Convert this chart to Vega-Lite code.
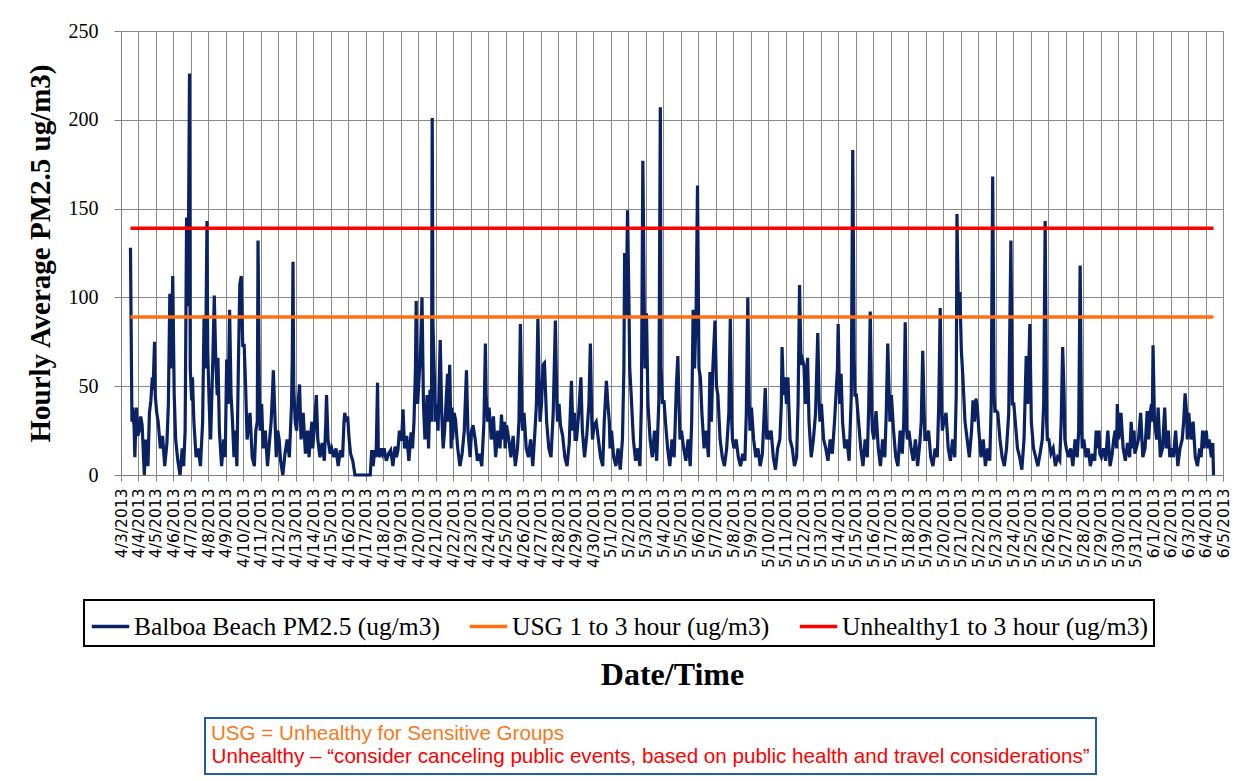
{
"$schema":"https://vega.github.io/schema/vega-lite/v6.json",
"autosize":{"type":"none"},
"padding":{"left":121,"top":31,"right":26,"bottom":306},
"width":1102,"height":444,
"background":"#FFFFFF",
"config":{"view":{"stroke":null},"legend":{"strokeWidth":2}},
"datasets":{
"pm":[
{"t":"2013-04-03T13:00","v":128},{"t":"2013-04-03T15:00","v":30},{"t":"2013-04-03T16:00","v":38},{"t":"2013-04-03T18:00","v":27},{"t":"2013-04-03T19:00","v":10},{"t":"2013-04-03T21:00","v":38},{"t":"2013-04-03T23:00","v":22},
{"t":"2013-04-04T01:00","v":25},{"t":"2013-04-04T03:00","v":33},{"t":"2013-04-04T05:00","v":28},{"t":"2013-04-04T08:00","v":0},{"t":"2013-04-04T10:00","v":20},{"t":"2013-04-04T13:00","v":5},{"t":"2013-04-04T15:00","v":35},{"t":"2013-04-04T17:00","v":42},{"t":"2013-04-04T19:00","v":55},{"t":"2013-04-04T20:00","v":48},{"t":"2013-04-04T22:00","v":75},{"t":"2013-04-04T23:00","v":45},
{"t":"2013-04-05T01:00","v":35},{"t":"2013-04-05T03:00","v":30},{"t":"2013-04-05T06:00","v":15},{"t":"2013-04-05T09:00","v":22},{"t":"2013-04-05T12:00","v":5},{"t":"2013-04-05T15:00","v":18},{"t":"2013-04-05T17:00","v":40},{"t":"2013-04-05T19:00","v":102},{"t":"2013-04-05T20:00","v":60},{"t":"2013-04-05T22:00","v":90},{"t":"2013-04-05T23:00","v":112},
{"t":"2013-04-06T01:00","v":45},{"t":"2013-04-06T03:00","v":20},{"t":"2013-04-06T06:00","v":8},{"t":"2013-04-06T09:00","v":0},{"t":"2013-04-06T12:00","v":15},{"t":"2013-04-06T14:00","v":5},{"t":"2013-04-06T16:00","v":25},{"t":"2013-04-06T18:00","v":145},{"t":"2013-04-06T20:00","v":95},{"t":"2013-04-06T22:00","v":226},{"t":"2013-04-06T23:00","v":60},
{"t":"2013-04-07T01:00","v":42},{"t":"2013-04-07T02:00","v":55},{"t":"2013-04-07T04:00","v":30},{"t":"2013-04-07T07:00","v":10},{"t":"2013-04-07T10:00","v":15},{"t":"2013-04-07T13:00","v":5},{"t":"2013-04-07T16:00","v":30},{"t":"2013-04-07T18:00","v":90},{"t":"2013-04-07T20:00","v":60},{"t":"2013-04-07T22:00","v":143},{"t":"2013-04-07T23:00","v":70},
{"t":"2013-04-08T01:00","v":40},{"t":"2013-04-08T03:00","v":20},{"t":"2013-04-08T06:00","v":65},{"t":"2013-04-08T08:00","v":101},{"t":"2013-04-08T10:00","v":65},{"t":"2013-04-08T12:00","v":45},{"t":"2013-04-08T13:00","v":66},{"t":"2013-04-08T15:00","v":25},{"t":"2013-04-08T18:00","v":5},{"t":"2013-04-08T21:00","v":20},{"t":"2013-04-08T23:00","v":10},
{"t":"2013-04-09T01:00","v":65},{"t":"2013-04-09T03:00","v":40},{"t":"2013-04-09T05:00","v":93},{"t":"2013-04-09T07:00","v":45},{"t":"2013-04-09T09:00","v":30},{"t":"2013-04-09T11:00","v":10},{"t":"2013-04-09T13:00","v":25},{"t":"2013-04-09T15:00","v":5},{"t":"2013-04-09T17:00","v":60},{"t":"2013-04-09T19:00","v":107},{"t":"2013-04-09T21:00","v":112},{"t":"2013-04-09T23:00","v":73},
{"t":"2013-04-10T01:00","v":73},{"t":"2013-04-10T03:00","v":50},{"t":"2013-04-10T05:00","v":20},{"t":"2013-04-10T09:00","v":35},{"t":"2013-04-10T12:00","v":10},{"t":"2013-04-10T15:00","v":5},{"t":"2013-04-10T17:00","v":25},{"t":"2013-04-10T19:00","v":30},{"t":"2013-04-10T20:00","v":132},{"t":"2013-04-10T22:00","v":40},{"t":"2013-04-10T23:00","v":25},
{"t":"2013-04-11T01:00","v":40},{"t":"2013-04-11T03:00","v":15},{"t":"2013-04-11T06:00","v":25},{"t":"2013-04-11T09:00","v":5},{"t":"2013-04-11T12:00","v":20},{"t":"2013-04-11T14:00","v":30},{"t":"2013-04-11T16:00","v":48},{"t":"2013-04-11T17:00","v":59},{"t":"2013-04-11T19:00","v":35},{"t":"2013-04-11T21:00","v":10},{"t":"2013-04-11T23:00","v":25},
{"t":"2013-04-12T01:00","v":20},{"t":"2013-04-12T03:00","v":8},{"t":"2013-04-12T06:00","v":0},{"t":"2013-04-12T09:00","v":12},{"t":"2013-04-12T12:00","v":20},{"t":"2013-04-12T15:00","v":10},{"t":"2013-04-12T18:00","v":40},{"t":"2013-04-12T19:00","v":65},{"t":"2013-04-12T20:00","v":120},{"t":"2013-04-12T21:00","v":50},{"t":"2013-04-12T23:00","v":30},
{"t":"2013-04-13T01:00","v":25},{"t":"2013-04-13T03:00","v":40},{"t":"2013-04-13T05:00","v":51},{"t":"2013-04-13T07:00","v":20},{"t":"2013-04-13T10:00","v":35},{"t":"2013-04-13T13:00","v":12},{"t":"2013-04-13T16:00","v":25},{"t":"2013-04-13T18:00","v":10},{"t":"2013-04-13T20:00","v":22},{"t":"2013-04-13T22:00","v":30},{"t":"2013-04-13T23:00","v":15},
{"t":"2013-04-14T01:00","v":25},{"t":"2013-04-14T04:00","v":45},{"t":"2013-04-14T06:00","v":20},{"t":"2013-04-14T09:00","v":10},{"t":"2013-04-14T12:00","v":18},{"t":"2013-04-14T15:00","v":8},{"t":"2013-04-14T17:00","v":30},{"t":"2013-04-14T18:00","v":45},{"t":"2013-04-14T20:00","v":20},{"t":"2013-04-14T23:00","v":12},
{"t":"2013-04-15T01:00","v":15},{"t":"2013-04-15T04:00","v":10},{"t":"2013-04-15T07:00","v":15},{"t":"2013-04-15T10:00","v":5},{"t":"2013-04-15T13:00","v":14},{"t":"2013-04-15T16:00","v":10},{"t":"2013-04-15T18:00","v":30},{"t":"2013-04-15T19:00","v":35},{"t":"2013-04-15T21:00","v":30},{"t":"2013-04-15T23:00","v":33},
{"t":"2013-04-16T01:00","v":20},{"t":"2013-04-16T03:00","v":12},{"t":"2013-04-16T06:00","v":8},{"t":"2013-04-16T09:00","v":0},
{"t":"2013-04-17T06:00","v":0},{"t":"2013-04-17T08:00","v":14},{"t":"2013-04-17T10:00","v":5},{"t":"2013-04-17T12:00","v":14},{"t":"2013-04-17T14:00","v":10},{"t":"2013-04-17T16:00","v":52},{"t":"2013-04-17T17:00","v":15},{"t":"2013-04-17T19:00","v":10},{"t":"2013-04-17T21:00","v":15},{"t":"2013-04-17T23:00","v":12},
{"t":"2013-04-18T01:00","v":15},{"t":"2013-04-18T04:00","v":8},{"t":"2013-04-18T07:00","v":12},{"t":"2013-04-18T10:00","v":14},{"t":"2013-04-18T13:00","v":5},{"t":"2013-04-18T16:00","v":16},{"t":"2013-04-18T18:00","v":10},{"t":"2013-04-18T20:00","v":14},{"t":"2013-04-18T22:00","v":25},{"t":"2013-04-18T23:00","v":20},
{"t":"2013-04-19T01:00","v":20},{"t":"2013-04-19T03:00","v":37},{"t":"2013-04-19T05:00","v":15},{"t":"2013-04-19T08:00","v":22},{"t":"2013-04-19T11:00","v":8},{"t":"2013-04-19T14:00","v":24},{"t":"2013-04-19T16:00","v":15},{"t":"2013-04-19T18:00","v":30},{"t":"2013-04-19T20:00","v":60},{"t":"2013-04-19T21:00","v":98},{"t":"2013-04-19T22:00","v":55},{"t":"2013-04-19T23:00","v":40},
{"t":"2013-04-20T01:00","v":55},{"t":"2013-04-20T03:00","v":70},{"t":"2013-04-20T05:00","v":100},{"t":"2013-04-20T07:00","v":40},{"t":"2013-04-20T09:00","v":20},{"t":"2013-04-20T12:00","v":45},{"t":"2013-04-20T14:00","v":15},{"t":"2013-04-20T16:00","v":48},{"t":"2013-04-20T18:00","v":30},{"t":"2013-04-20T19:00","v":201},{"t":"2013-04-20T20:00","v":85},{"t":"2013-04-20T22:00","v":55},{"t":"2013-04-20T23:00","v":30},
{"t":"2013-04-21T01:00","v":40},{"t":"2013-04-21T03:00","v":25},{"t":"2013-04-21T06:00","v":76},{"t":"2013-04-21T08:00","v":35},{"t":"2013-04-21T10:00","v":15},{"t":"2013-04-21T12:00","v":25},{"t":"2013-04-21T16:00","v":57},{"t":"2013-04-21T17:00","v":30},{"t":"2013-04-21T19:00","v":62},{"t":"2013-04-21T21:00","v":15},{"t":"2013-04-21T22:00","v":38},{"t":"2013-04-21T23:00","v":20},
{"t":"2013-04-22T01:00","v":35},{"t":"2013-04-22T03:00","v":31},{"t":"2013-04-22T06:00","v":15},{"t":"2013-04-22T09:00","v":5},{"t":"2013-04-22T12:00","v":12},{"t":"2013-04-22T15:00","v":25},{"t":"2013-04-22T18:00","v":59},{"t":"2013-04-22T20:00","v":25},{"t":"2013-04-22T22:00","v":15},{"t":"2013-04-22T23:00","v":10},
{"t":"2013-04-23T01:00","v":25},{"t":"2013-04-23T03:00","v":28},{"t":"2013-04-23T06:00","v":20},{"t":"2013-04-23T09:00","v":8},{"t":"2013-04-23T12:00","v":12},{"t":"2013-04-23T15:00","v":5},{"t":"2013-04-23T18:00","v":30},{"t":"2013-04-23T20:00","v":74},{"t":"2013-04-23T21:00","v":45},{"t":"2013-04-23T23:00","v":30},
{"t":"2013-04-24T01:00","v":38},{"t":"2013-04-24T04:00","v":20},{"t":"2013-04-24T07:00","v":33},{"t":"2013-04-24T10:00","v":10},{"t":"2013-04-24T13:00","v":25},{"t":"2013-04-24T16:00","v":15},{"t":"2013-04-24T18:00","v":34},{"t":"2013-04-24T20:00","v":20},{"t":"2013-04-24T22:00","v":30},{"t":"2013-04-24T23:00","v":15},
{"t":"2013-04-25T01:00","v":28},{"t":"2013-04-25T04:00","v":20},{"t":"2013-04-25T07:00","v":10},{"t":"2013-04-25T10:00","v":22},{"t":"2013-04-25T13:00","v":5},{"t":"2013-04-25T16:00","v":15},{"t":"2013-04-25T18:00","v":30},{"t":"2013-04-25T20:00","v":85},{"t":"2013-04-25T22:00","v":35},{"t":"2013-04-25T23:00","v":25},
{"t":"2013-04-26T01:00","v":35},{"t":"2013-04-26T04:00","v":15},{"t":"2013-04-26T07:00","v":10},{"t":"2013-04-26T10:00","v":20},{"t":"2013-04-26T13:00","v":5},{"t":"2013-04-26T16:00","v":25},{"t":"2013-04-26T18:00","v":40},{"t":"2013-04-26T20:00","v":88},{"t":"2013-04-26T22:00","v":45},{"t":"2013-04-26T23:00","v":30},
{"t":"2013-04-27T01:00","v":40},{"t":"2013-04-27T03:00","v":62},{"t":"2013-04-27T05:00","v":63},{"t":"2013-04-27T08:00","v":30},{"t":"2013-04-27T11:00","v":15},{"t":"2013-04-27T14:00","v":10},{"t":"2013-04-27T17:00","v":35},{"t":"2013-04-27T20:00","v":87},{"t":"2013-04-27T22:00","v":40},{"t":"2013-04-27T23:00","v":30},
{"t":"2013-04-28T01:00","v":40},{"t":"2013-04-28T03:00","v":28},{"t":"2013-04-28T06:00","v":22},{"t":"2013-04-28T09:00","v":10},{"t":"2013-04-28T12:00","v":5},{"t":"2013-04-28T15:00","v":18},{"t":"2013-04-28T18:00","v":53},{"t":"2013-04-28T20:00","v":25},{"t":"2013-04-28T22:00","v":35},{"t":"2013-04-28T23:00","v":20},
{"t":"2013-04-29T01:00","v":20},{"t":"2013-04-29T04:00","v":35},{"t":"2013-04-29T07:00","v":55},{"t":"2013-04-29T09:00","v":25},{"t":"2013-04-29T12:00","v":10},{"t":"2013-04-29T15:00","v":22},{"t":"2013-04-29T18:00","v":40},{"t":"2013-04-29T20:00","v":74},{"t":"2013-04-29T22:00","v":30},{"t":"2013-04-29T23:00","v":20},
{"t":"2013-04-30T01:00","v":28},{"t":"2013-04-30T04:00","v":30},{"t":"2013-04-30T07:00","v":20},{"t":"2013-04-30T10:00","v":10},{"t":"2013-04-30T13:00","v":5},{"t":"2013-04-30T15:00","v":30},{"t":"2013-04-30T18:00","v":53},{"t":"2013-04-30T20:00","v":40},{"t":"2013-04-30T22:00","v":30},{"t":"2013-04-30T23:00","v":15},
{"t":"2013-05-01T01:00","v":25},{"t":"2013-05-01T04:00","v":10},{"t":"2013-05-01T07:00","v":5},{"t":"2013-05-01T10:00","v":15},{"t":"2013-05-01T13:00","v":3},{"t":"2013-05-01T16:00","v":20},{"t":"2013-05-01T18:00","v":60},{"t":"2013-05-01T19:00","v":125},{"t":"2013-05-01T21:00","v":90},{"t":"2013-05-01T23:00","v":149},
{"t":"2013-05-02T01:00","v":95},{"t":"2013-05-02T02:00","v":60},{"t":"2013-05-02T04:00","v":45},{"t":"2013-05-02T07:00","v":20},{"t":"2013-05-02T10:00","v":8},{"t":"2013-05-02T13:00","v":15},{"t":"2013-05-02T16:00","v":5},{"t":"2013-05-02T18:00","v":40},{"t":"2013-05-02T20:00","v":177},{"t":"2013-05-02T22:00","v":91},{"t":"2013-05-02T23:00","v":60},
{"t":"2013-05-03T01:00","v":91},{"t":"2013-05-03T03:00","v":40},{"t":"2013-05-03T06:00","v":20},{"t":"2013-05-03T09:00","v":10},{"t":"2013-05-03T12:00","v":25},{"t":"2013-05-03T15:00","v":8},{"t":"2013-05-03T18:00","v":42},{"t":"2013-05-03T20:00","v":207},{"t":"2013-05-03T21:00","v":60},{"t":"2013-05-03T23:00","v":40},
{"t":"2013-05-04T01:00","v":42},{"t":"2013-05-04T03:00","v":30},{"t":"2013-05-04T06:00","v":15},{"t":"2013-05-04T09:00","v":5},{"t":"2013-05-04T12:00","v":20},{"t":"2013-05-04T15:00","v":10},{"t":"2013-05-04T18:00","v":50},{"t":"2013-05-04T20:00","v":67},{"t":"2013-05-04T22:00","v":35},{"t":"2013-05-04T23:00","v":20},
{"t":"2013-05-05T01:00","v":25},{"t":"2013-05-05T04:00","v":15},{"t":"2013-05-05T07:00","v":8},{"t":"2013-05-05T10:00","v":20},{"t":"2013-05-05T13:00","v":5},{"t":"2013-05-05T15:00","v":30},{"t":"2013-05-05T17:00","v":93},{"t":"2013-05-05T19:00","v":60},{"t":"2013-05-05T21:00","v":90},{"t":"2013-05-05T23:00","v":163},
{"t":"2013-05-06T01:00","v":60},{"t":"2013-05-06T03:00","v":55},{"t":"2013-05-06T05:00","v":35},{"t":"2013-05-06T08:00","v":15},{"t":"2013-05-06T11:00","v":25},{"t":"2013-05-06T14:00","v":10},{"t":"2013-05-06T16:00","v":58},{"t":"2013-05-06T18:00","v":30},{"t":"2013-05-06T20:00","v":60},{"t":"2013-05-06T23:00","v":87},
{"t":"2013-05-07T01:00","v":50},{"t":"2013-05-07T03:00","v":45},{"t":"2013-05-07T06:00","v":20},{"t":"2013-05-07T09:00","v":10},{"t":"2013-05-07T12:00","v":5},{"t":"2013-05-07T15:00","v":15},{"t":"2013-05-07T18:00","v":35},{"t":"2013-05-07T20:00","v":88},{"t":"2013-05-07T22:00","v":30},{"t":"2013-05-07T23:00","v":20},
{"t":"2013-05-08T01:00","v":15},{"t":"2013-05-08T04:00","v":20},{"t":"2013-05-08T07:00","v":10},{"t":"2013-05-08T10:00","v":5},{"t":"2013-05-08T13:00","v":12},{"t":"2013-05-08T16:00","v":8},{"t":"2013-05-08T18:00","v":35},{"t":"2013-05-08T20:00","v":100},{"t":"2013-05-08T22:00","v":40},{"t":"2013-05-08T23:00","v":25},
{"t":"2013-05-09T01:00","v":38},{"t":"2013-05-09T04:00","v":20},{"t":"2013-05-09T07:00","v":10},{"t":"2013-05-09T10:00","v":15},{"t":"2013-05-09T13:00","v":5},{"t":"2013-05-09T16:00","v":12},{"t":"2013-05-09T18:00","v":30},{"t":"2013-05-09T20:00","v":49},{"t":"2013-05-09T22:00","v":20},{"t":"2013-05-09T23:00","v":25},
{"t":"2013-05-10T01:00","v":20},{"t":"2013-05-10T04:00","v":25},{"t":"2013-05-10T07:00","v":10},{"t":"2013-05-10T10:00","v":3},{"t":"2013-05-10T13:00","v":15},{"t":"2013-05-10T16:00","v":20},{"t":"2013-05-10T18:00","v":40},{"t":"2013-05-10T19:00","v":72},{"t":"2013-05-10T21:00","v":45},{"t":"2013-05-10T23:00","v":55},
{"t":"2013-05-11T01:00","v":40},{"t":"2013-05-11T03:00","v":55},{"t":"2013-05-11T06:00","v":20},{"t":"2013-05-11T09:00","v":15},{"t":"2013-05-11T12:00","v":5},{"t":"2013-05-11T15:00","v":10},{"t":"2013-05-11T17:00","v":40},{"t":"2013-05-11T19:00","v":107},{"t":"2013-05-11T21:00","v":62},{"t":"2013-05-11T23:00","v":65},
{"t":"2013-05-12T01:00","v":62},{"t":"2013-05-12T03:00","v":40},{"t":"2013-05-12T06:00","v":66},{"t":"2013-05-12T08:00","v":30},{"t":"2013-05-12T11:00","v":10},{"t":"2013-05-12T14:00","v":20},{"t":"2013-05-12T17:00","v":35},{"t":"2013-05-12T20:00","v":80},{"t":"2013-05-12T22:00","v":40},{"t":"2013-05-12T23:00","v":30},
{"t":"2013-05-13T01:00","v":40},{"t":"2013-05-13T04:00","v":20},{"t":"2013-05-13T07:00","v":15},{"t":"2013-05-13T10:00","v":8},{"t":"2013-05-13T13:00","v":20},{"t":"2013-05-13T16:00","v":12},{"t":"2013-05-13T19:00","v":30},{"t":"2013-05-13T21:00","v":45},{"t":"2013-05-13T23:00","v":60},
{"t":"2013-05-14T00:00","v":85},{"t":"2013-05-14T02:00","v":40},{"t":"2013-05-14T04:00","v":57},{"t":"2013-05-14T06:00","v":30},{"t":"2013-05-14T09:00","v":15},{"t":"2013-05-14T12:00","v":20},{"t":"2013-05-14T15:00","v":8},{"t":"2013-05-14T18:00","v":45},{"t":"2013-05-14T20:00","v":183},{"t":"2013-05-14T22:00","v":65},{"t":"2013-05-14T23:00","v":45},
{"t":"2013-05-15T01:00","v":45},{"t":"2013-05-15T04:00","v":30},{"t":"2013-05-15T07:00","v":15},{"t":"2013-05-15T10:00","v":5},{"t":"2013-05-15T13:00","v":20},{"t":"2013-05-15T16:00","v":10},{"t":"2013-05-15T18:00","v":40},{"t":"2013-05-15T20:00","v":92},{"t":"2013-05-15T22:00","v":36},{"t":"2013-05-15T23:00","v":25},
{"t":"2013-05-16T01:00","v":20},{"t":"2013-05-16T04:00","v":36},{"t":"2013-05-16T07:00","v":15},{"t":"2013-05-16T10:00","v":5},{"t":"2013-05-16T13:00","v":20},{"t":"2013-05-16T16:00","v":10},{"t":"2013-05-16T18:00","v":35},{"t":"2013-05-16T20:00","v":74},{"t":"2013-05-16T22:00","v":45},{"t":"2013-05-16T23:00","v":30},
{"t":"2013-05-17T01:00","v":45},{"t":"2013-05-17T04:00","v":25},{"t":"2013-05-17T07:00","v":10},{"t":"2013-05-17T10:00","v":5},{"t":"2013-05-17T13:00","v":25},{"t":"2013-05-17T16:00","v":12},{"t":"2013-05-17T18:00","v":30},{"t":"2013-05-17T20:00","v":86},{"t":"2013-05-17T22:00","v":25},{"t":"2013-05-17T23:00","v":20},
{"t":"2013-05-18T01:00","v":25},{"t":"2013-05-18T04:00","v":15},{"t":"2013-05-18T07:00","v":8},{"t":"2013-05-18T10:00","v":20},{"t":"2013-05-18T13:00","v":5},{"t":"2013-05-18T16:00","v":18},{"t":"2013-05-18T18:00","v":30},{"t":"2013-05-18T20:00","v":70},{"t":"2013-05-18T22:00","v":35},{"t":"2013-05-18T23:00","v":20},
{"t":"2013-05-19T01:00","v":20},{"t":"2013-05-19T04:00","v":25},{"t":"2013-05-19T07:00","v":10},{"t":"2013-05-19T10:00","v":5},{"t":"2013-05-19T13:00","v":15},{"t":"2013-05-19T16:00","v":10},{"t":"2013-05-19T18:00","v":40},{"t":"2013-05-19T20:00","v":94},{"t":"2013-05-19T22:00","v":35},{"t":"2013-05-19T23:00","v":25},
{"t":"2013-05-20T01:00","v":30},{"t":"2013-05-20T04:00","v":35},{"t":"2013-05-20T07:00","v":15},{"t":"2013-05-20T10:00","v":8},{"t":"2013-05-20T13:00","v":20},{"t":"2013-05-20T16:00","v":10},{"t":"2013-05-20T18:00","v":45},{"t":"2013-05-20T19:00","v":147},{"t":"2013-05-20T21:00","v":90},{"t":"2013-05-20T23:00","v":103},
{"t":"2013-05-21T01:00","v":70},{"t":"2013-05-21T03:00","v":56},{"t":"2013-05-21T06:00","v":30},{"t":"2013-05-21T09:00","v":20},{"t":"2013-05-21T12:00","v":10},{"t":"2013-05-21T15:00","v":25},{"t":"2013-05-21T17:00","v":42},{"t":"2013-05-21T19:00","v":30},{"t":"2013-05-21T21:00","v":43},{"t":"2013-05-21T23:00","v":38},
{"t":"2013-05-22T01:00","v":25},{"t":"2013-05-22T04:00","v":10},{"t":"2013-05-22T07:00","v":20},{"t":"2013-05-22T10:00","v":5},{"t":"2013-05-22T13:00","v":15},{"t":"2013-05-22T16:00","v":8},{"t":"2013-05-22T18:00","v":40},{"t":"2013-05-22T20:00","v":168},{"t":"2013-05-22T22:00","v":45},{"t":"2013-05-22T23:00","v":36},
{"t":"2013-05-23T01:00","v":36},{"t":"2013-05-23T03:00","v":35},{"t":"2013-05-23T06:00","v":20},{"t":"2013-05-23T09:00","v":10},{"t":"2013-05-23T12:00","v":5},{"t":"2013-05-23T15:00","v":15},{"t":"2013-05-23T18:00","v":35},{"t":"2013-05-23T21:00","v":132},{"t":"2013-05-23T23:00","v":40},
{"t":"2013-05-24T01:00","v":40},{"t":"2013-05-24T03:00","v":30},{"t":"2013-05-24T06:00","v":15},{"t":"2013-05-24T09:00","v":10},{"t":"2013-05-24T12:00","v":3},{"t":"2013-05-24T15:00","v":20},{"t":"2013-05-24T18:00","v":67},{"t":"2013-05-24T20:00","v":40},{"t":"2013-05-24T23:00","v":85},
{"t":"2013-05-25T01:00","v":30},{"t":"2013-05-25T04:00","v":15},{"t":"2013-05-25T07:00","v":10},{"t":"2013-05-25T10:00","v":5},{"t":"2013-05-25T13:00","v":12},{"t":"2013-05-25T16:00","v":20},{"t":"2013-05-25T18:00","v":40},{"t":"2013-05-25T20:00","v":143},{"t":"2013-05-25T22:00","v":30},{"t":"2013-05-25T23:00","v":20},
{"t":"2013-05-26T01:00","v":20},{"t":"2013-05-26T04:00","v":12},{"t":"2013-05-26T07:00","v":15},{"t":"2013-05-26T10:00","v":5},{"t":"2013-05-26T13:00","v":10},{"t":"2013-05-26T16:00","v":8},{"t":"2013-05-26T18:00","v":30},{"t":"2013-05-26T20:00","v":72},{"t":"2013-05-26T22:00","v":45},{"t":"2013-05-26T23:00","v":20},
{"t":"2013-05-27T01:00","v":15},{"t":"2013-05-27T04:00","v":10},{"t":"2013-05-27T07:00","v":15},{"t":"2013-05-27T10:00","v":5},{"t":"2013-05-27T13:00","v":20},{"t":"2013-05-27T16:00","v":10},{"t":"2013-05-27T18:00","v":25},{"t":"2013-05-27T20:00","v":118},{"t":"2013-05-27T22:00","v":25},{"t":"2013-05-27T23:00","v":15},
{"t":"2013-05-28T01:00","v":20},{"t":"2013-05-28T04:00","v":10},{"t":"2013-05-28T07:00","v":15},{"t":"2013-05-28T10:00","v":5},{"t":"2013-05-28T13:00","v":12},{"t":"2013-05-28T16:00","v":8},{"t":"2013-05-28T18:00","v":25},{"t":"2013-05-28T20:00","v":15},{"t":"2013-05-28T22:00","v":25},{"t":"2013-05-28T23:00","v":12},
{"t":"2013-05-29T01:00","v":10},{"t":"2013-05-29T04:00","v":15},{"t":"2013-05-29T07:00","v":8},{"t":"2013-05-29T10:00","v":25},{"t":"2013-05-29T13:00","v":5},{"t":"2013-05-29T16:00","v":12},{"t":"2013-05-29T18:00","v":20},{"t":"2013-05-29T20:00","v":25},{"t":"2013-05-29T22:00","v":15},{"t":"2013-05-29T23:00","v":40},
{"t":"2013-05-30T01:00","v":20},{"t":"2013-05-30T04:00","v":35},{"t":"2013-05-30T07:00","v":15},{"t":"2013-05-30T10:00","v":8},{"t":"2013-05-30T13:00","v":18},{"t":"2013-05-30T16:00","v":10},{"t":"2013-05-30T18:00","v":30},{"t":"2013-05-30T20:00","v":15},{"t":"2013-05-30T22:00","v":25},{"t":"2013-05-30T23:00","v":12},
{"t":"2013-05-31T01:00","v":15},{"t":"2013-05-31T04:00","v":20},{"t":"2013-05-31T07:00","v":35},{"t":"2013-05-31T10:00","v":10},{"t":"2013-05-31T13:00","v":15},{"t":"2013-05-31T16:00","v":36},{"t":"2013-05-31T18:00","v":20},{"t":"2013-05-31T20:00","v":35},{"t":"2013-05-31T22:00","v":40},{"t":"2013-05-31T23:00","v":30},
{"t":"2013-06-01T00:00","v":73},{"t":"2013-06-01T02:00","v":30},{"t":"2013-06-01T05:00","v":20},{"t":"2013-06-01T07:00","v":38},{"t":"2013-06-01T10:00","v":10},{"t":"2013-06-01T13:00","v":15},{"t":"2013-06-01T16:00","v":38},{"t":"2013-06-01T18:00","v":15},{"t":"2013-06-01T21:00","v":25},{"t":"2013-06-01T23:00","v":10},
{"t":"2013-06-02T01:00","v":15},{"t":"2013-06-02T04:00","v":10},{"t":"2013-06-02T07:00","v":25},{"t":"2013-06-02T10:00","v":5},{"t":"2013-06-02T13:00","v":15},{"t":"2013-06-02T16:00","v":20},{"t":"2013-06-02T18:00","v":30},{"t":"2013-06-02T20:00","v":46},{"t":"2013-06-02T22:00","v":35},{"t":"2013-06-02T23:00","v":20},
{"t":"2013-06-03T01:00","v":35},{"t":"2013-06-03T04:00","v":20},{"t":"2013-06-03T07:00","v":30},{"t":"2013-06-03T10:00","v":10},{"t":"2013-06-03T13:00","v":5},{"t":"2013-06-03T16:00","v":15},{"t":"2013-06-03T18:00","v":10},{"t":"2013-06-03T20:00","v":25},{"t":"2013-06-03T22:00","v":15},{"t":"2013-06-03T23:00","v":20},
{"t":"2013-06-04T01:00","v":25},{"t":"2013-06-04T03:00","v":15},{"t":"2013-06-04T05:00","v":20},{"t":"2013-06-04T08:00","v":10},{"t":"2013-06-04T10:00","v":18},{"t":"2013-06-04T11:00","v":0}
],
"limits":[
{"s":"USG 1 to 3 hour (ug/m3)","n":"Unhealthy – “consider canceling public events, based on public health and travel considerations”","a":"2013-04-03T13:00","b":"2013-06-04T11:00","y":89},
{"s":"Unhealthy1 to 3 hour (ug/m3)","n":"Unhealthy – “consider canceling public events, based on public health and travel considerations”","a":"2013-04-03T13:00","b":"2013-06-04T11:00","y":139}
]
},
"layer":[
{
"data":{"name":"pm"},
"mark":{"type":"line","strokeWidth":3.2},
"encoding":{
"x":{"field":"t","type":"temporal",
"scale":{"domain":[{"year":2013,"month":4,"date":3},{"year":2013,"month":6,"date":5}],"nice":false},
"axis":{
"tickCount":{"interval":"day","step":1},
"format":"%-m/%-d/%Y",
"labelAngle":270,"labelFont":"DejaVu Sans","labelFontSize":15.5,"labelColor":"#000000","labelPadding":7,
"labelOverlap":false,"labelFlush":false,"labelBound":false,
"tickSize":6,"tickColor":"#808080","tickWidth":1,
"domainColor":"#808080","domainWidth":1,
"grid":true,"gridColor":"#8A8A8A","gridWidth":1,
"title":"Date/Time","titleFont":"Liberation Serif","titleFontWeight":"bold","titleFontSize":32,"titleColor":"#000000",
"titleX":551,"titleY":209,"titleAlign":"center","titleBaseline":"alphabetic"
}},
"y":{"field":"v","type":"quantitative",
"scale":{"domain":[0,250],"nice":false},
"axis":{
"values":[0,50,100,150,200,250],
"labelFont":"Liberation Serif","labelFontSize":20,"labelColor":"#000000","labelPadding":16,
"tickSize":7,"tickColor":"#808080","tickWidth":1,
"domainColor":"#808080","domainWidth":1,
"grid":true,"gridColor":"#8A8A8A","gridWidth":1,
"title":"Hourly Average PM2.5 ug/m3)","titleFont":"Liberation Serif","titleFontWeight":"bold","titleFontSize":29,"titleColor":"#000000",
"titleX":-81,"titleY":222,"titleAngle":270,"titleAlign":"center","titleBaseline":"middle"
}},
"color":{"datum":"Balboa Beach PM2.5 (ug/m3)","type":"nominal",
"scale":{"domain":["Balboa Beach PM2.5 (ug/m3)","USG 1 to 3 hour (ug/m3)","Unhealthy1 to 3 hour (ug/m3)"],"range":["#0A2263","#FF7012","#FF0000"]},
"legend":{"orient":"none","legendX":-37,"legendY":569,"direction":"horizontal","columns":3,
"title":null,
"symbolType":"stroke","symbolSize":1400,"symbolStrokeWidth":3.5,
"labelFont":"Liberation Serif","labelFontSize":25.5,"labelColor":"#000000","labelOffset":3,"labelLimit":2000,
"columnPadding":22,"padding":6,"strokeColor":"#000000"}
}
}
},
{
"data":{"name":"limits"},
"mark":{"type":"rule","strokeWidth":3.5},
"encoding":{
"x":{"field":"a","type":"temporal"},
"x2":{"field":"b"},
"y":{"field":"y","type":"quantitative"},
"color":{"field":"s","type":"nominal","legend":{"title":null}},
"strokeDash":{"field":"n","type":"nominal",
"scale":{"range":[[1,0]]},
"legend":{"orient":"none","legendX":84,"legendY":687,"direction":"vertical",
"title":"USG = Unhealthy for Sensitive Groups","titleFont":"Liberation Sans","titleFontSize":20.6,"titleFontWeight":"normal","titleColor":"#F47A22","titlePadding":2,"titleLimit":2000,
"symbolOpacity":0,"symbolSize":1,"symbolStrokeWidth":0,"labelOffset":-20,
"labelFont":"Liberation Sans","labelFontSize":20.6,"labelColor":"#FF0000","labelLimit":2000,"padding":6,
"strokeColor":"#255E9E"}}
}
}
]
}
